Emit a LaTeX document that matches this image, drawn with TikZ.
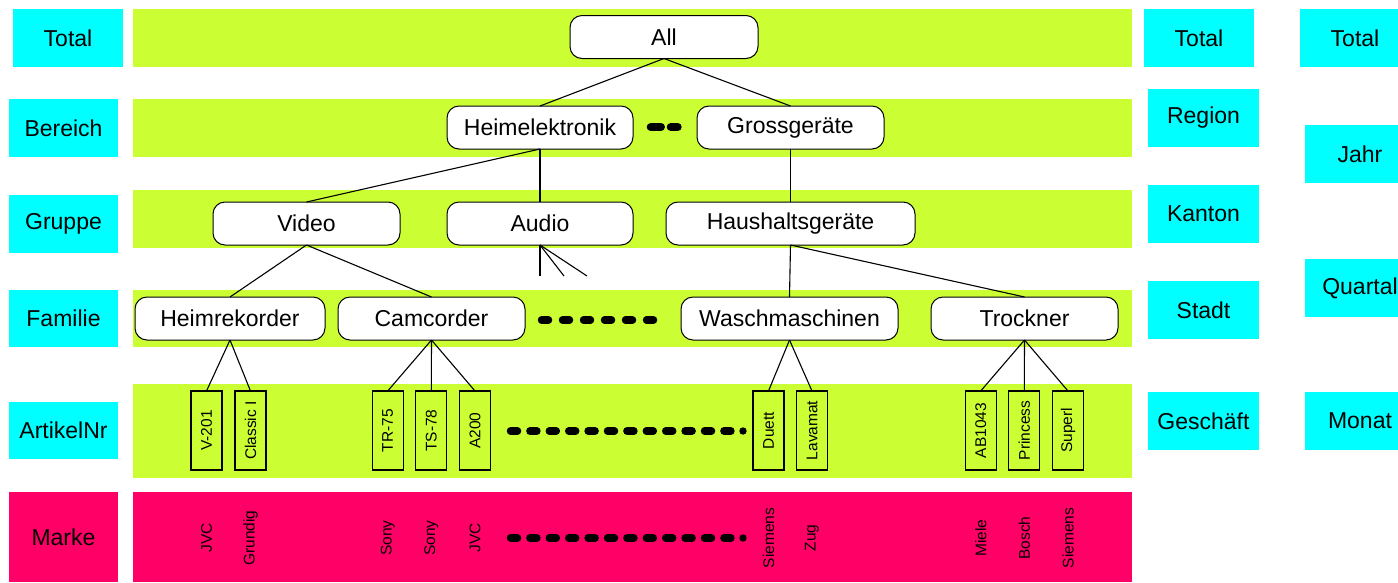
\documentclass[tikz,border=0pt]{standalone}
\usepackage{fontspec}
\usepackage{graphicx}
\setmainfont{Liberation Sans}
\definecolor{bandgreen}{HTML}{CCFF33}
\definecolor{levelcyan}{HTML}{00FFFF}
\definecolor{brandpink}{HTML}{FF0066}
\newcommand\lblfont{\fontsize{23}{27}\selectfont}
\newcommand\smlfont{\fontsize{15.5}{18}\selectfont}
\begin{document}
\begin{tikzpicture}[x=1pt,y=-1pt,
  level/.style={fill=levelcyan, minimum width=110, minimum height=58, inner sep=0, outer sep=0, font=\lblfont},
  treenode/.style={draw=black, line width=1pt, fill=white, rounded corners=12, minimum height=43, inner sep=0, outer sep=0, font=\lblfont},
  artbox/.style={draw=black, line width=1.1pt, fill=bandgreen, minimum width=31, minimum height=79, inner sep=0, outer sep=0, font=\smlfont},
  brand/.style={inner sep=0, font=\smlfont},
  link/.style={draw=black, line width=1.1pt},
  dots/.style={line width=7.5pt, line cap=round, black}]
\useasboundingbox (0,0) rectangle (1398,582);
\clip (0,0) rectangle (1398,582);

% hierarchy bands
\fill[bandgreen] (133,9) rectangle (1132,67);
\fill[bandgreen] (133,99) rectangle (1132,157);
\fill[bandgreen] (133,190) rectangle (1132,248);
\fill[bandgreen] (133,290) rectangle (1132,347);
\fill[bandgreen] (133,384) rectangle (1132,478);
\fill[brandpink] (133,492) rectangle (1132,582);

% level names, left column
\node[level] (lTotal) at (68,38) {Total};
\node[level, minimum width=109] (lBereich) at (63.5,128) {Bereich};
\node[level, minimum width=109] (lGruppe) at (63.5,224) {Gruppe};
\node[level, minimum width=109, minimum height=57] (lFamilie) at (63.5,318.5) {Familie};
\node[level, minimum width=109, minimum height=57] (lArtikel) at (63.5,430.5) {ArtikelNr};
\node[level, fill=brandpink, minimum width=109, minimum height=90] (lMarke) at (63.5,537) {Marke};

% location hierarchy
\node[level] (rTotal) at (1199,38) {Total};
\node[level, minimum width=111] (rRegion) at (1203.5,118) {Region};
\node[level, minimum width=111] (rKanton) at (1203.5,214) {Kanton};
\node[level, minimum width=111] (rStadt) at (1203.5,310) {Stadt};
\node[level, minimum width=111] (rGeschaeft) at (1203.5,421) {Geschäft};

% time hierarchy
\node[level] (tTotal) at (1355,38) {Total};
\node[level] (tJahr) at (1360,154) {Jahr};
\node[level] (tQuartal) at (1360,288) {Quartal};
\node[level] (tMonat) at (1360,421) {Monat};

% product tree
\node[treenode, minimum width=188] (all) at (664,37) {All};
\node[treenode, minimum width=186] (heim) at (540,127.5) {Heimelektronik};
\node[treenode, minimum width=187] (gross) at (790.5,127.5) {Grossgeräte};
\node[treenode, minimum width=187] (video) at (306.5,223.5) {Video};
\node[treenode, minimum width=186] (audio) at (540,223.5) {Audio};
\node[treenode, minimum width=249] (haus) at (790.5,223.5) {Haushaltsgeräte};
\node[treenode, minimum width=190] (rekorder) at (230,318.5) {Heimrekorder};
\node[treenode, minimum width=187] (camcorder) at (431.5,318.5) {Camcorder};
\node[treenode, minimum width=217] (wasch) at (789.5,318.5) {Waschmaschinen};
\node[treenode, minimum width=187] (trockner) at (1024.5,318.5) {Trockner};

% articles
\node[artbox] (v201) at (206.5,430.5) {\rotatebox{90}{V-201}};
\node[artbox] (classic) at (250.5,430.5) {\rotatebox{90}{Classic I}};
\node[artbox] (tr75) at (387.7,430.5) {\rotatebox{90}{TR-75}};
\node[artbox] (ts78) at (431.3,430.5) {\rotatebox{90}{TS-78}};
\node[artbox] (a200) at (475,430.5) {\rotatebox{90}{A200}};
\node[artbox] (duett) at (768.5,430.5) {\rotatebox{90}{Duett}};
\node[artbox] (lavamat) at (812,430.5) {\rotatebox{90}{Lavamat}};
\node[artbox] (ab1043) at (980.7,430.5) {\rotatebox{90}{AB1043}};
\node[artbox] (princess) at (1024.3,430.5) {\rotatebox{90}{Princess}};
\node[artbox] (superl) at (1068,430.5) {\rotatebox{90}{Superl}};

% brands
\node[brand] (bv201) at (206.5,538) {\rotatebox{90}{JVC}};
\node[brand] (bclassic) at (250.5,538) {\rotatebox{90}{Grundig}};
\node[brand] (btr75) at (387.7,538) {\rotatebox{90}{Sony}};
\node[brand] (bts78) at (431.3,538) {\rotatebox{90}{Sony}};
\node[brand] (ba200) at (475,538) {\rotatebox{90}{JVC}};
\node[brand] (bduett) at (768.5,538) {\rotatebox{90}{Siemens}};
\node[brand] (blavamat) at (812,538) {\rotatebox{90}{Zug}};
\node[brand] (bab1043) at (980.7,538) {\rotatebox{90}{Miele}};
\node[brand] (bprincess) at (1024.3,538) {\rotatebox{90}{Bosch}};
\node[brand] (bsuperl) at (1068,538) {\rotatebox{90}{Siemens}};

% tree connectors
\draw[link] (all.south) -- (heim.north);
\draw[link] (all.south) -- (gross.north);
\draw[link] (heim.south) -- (video.north);
\draw[link] (heim.south) -- (audio.north);
\draw[link] (gross.south) -- (haus.north);
\draw[link] (video.south) -- (rekorder.north);
\draw[link] (video.south) -- (camcorder.north);
\draw[link] (haus.south) -- (wasch.north);
\draw[link] (haus.south) -- (trockner.north);
\draw[link] (rekorder.south) -- (v201.north);
\draw[link] (rekorder.south) -- (classic.north);
\draw[link] (camcorder.south) -- (tr75.north);
\draw[link] (camcorder.south) -- (ts78.north);
\draw[link] (camcorder.south) -- (a200.north);
\draw[link] (wasch.south) -- (duett.north);
\draw[link] (wasch.south) -- (lavamat.north);
\draw[link] (trockner.south) -- (ab1043.north);
\draw[link] (trockner.south) -- (princess.north);
\draw[link] (trockner.south) -- (superl.north);

% fan below Audio
\coordinate (f1) at (540,276);
\coordinate (f2) at (564,276);
\coordinate (f3) at (587,276);
\draw[link] (audio.south) -- (f1);
\draw[link] (audio.south) -- (f2);
\draw[link] (audio.south) -- (f3);

% ellipsis marks
\draw[dots, line width=8pt] (650.7,127) -- (661,127);
\draw[dots, line width=8pt] (670.7,127) -- (677.7,127);
\foreach \i in {0,...,5}
  \draw[dots] ({541.5+21*\i},320) -- ({548.5+21*\i},320);
\foreach \i in {0,...,11}
  \draw[dots] ({510.5+19.4*\i},431) -- ({517.5+19.4*\i},431);
\fill (743,431) circle (3.7);
\foreach \i in {0,...,11}
  \draw[dots] ({510.5+19.4*\i},538) -- ({517.5+19.4*\i},538);
\fill (743,538) circle (3.7);
\end{tikzpicture}
\end{document}
